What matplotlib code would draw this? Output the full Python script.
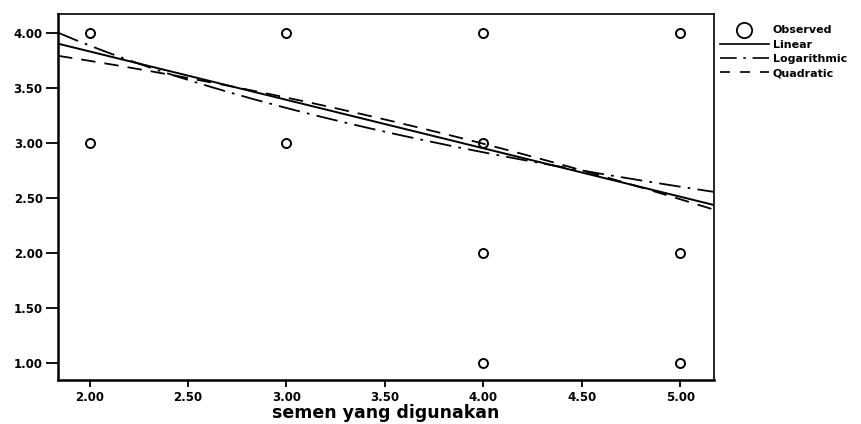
import numpy as np
import matplotlib
matplotlib.use("Agg")
import matplotlib.pyplot as plt
from matplotlib.lines import Line2D

obs_x = [2, 2, 3, 3, 4, 4, 4, 4, 5, 5, 5]
obs_y = [4, 3, 4, 3, 4, 3, 2, 1, 4, 2, 1]

# Fitted model coefficients
linear_coef = [4.71, -0.44]            # b0 + b1*x
log_coef = [4.854, -1.40]              # b0 + b1*ln(x)
quad_coef = [4.157, -0.121, -0.0426]   # b0 + b1*x + b2*x^2

x_ticks = [2.0, 2.5, 3.0, 3.5, 4.0, 4.5, 5.0]
y_ticks = [1.0, 1.5, 2.0, 2.5, 3.0, 3.5, 4.0]
xlim = (1.84, 5.17)
ylim = (0.845, 4.17)

plt.rcParams['font.family'] = ['DejaVu Sans']

fig = plt.figure(figsize=(8.61, 4.24), dpi=100)
ax = fig.add_axes([0.0674, 0.1038, 0.829 - 0.0674, 0.967 - 0.1038])

xs = np.linspace(xlim[0], xlim[1], 300)
ax.plot(obs_x, obs_y, linestyle='none', marker='o', markersize=6.5,
        markerfacecolor='none', markeredgecolor='black', markeredgewidth=1.4, clip_on=False)
ax.plot(xs, linear_coef[0] + linear_coef[1] * xs, color='black', lw=1.4)
ax.plot(xs, log_coef[0] + log_coef[1] * np.log(xs), color='black', lw=1.3,
        dashes=(12, 4, 1.5, 4))
ax.plot(xs, quad_coef[0] + quad_coef[1] * xs + quad_coef[2] * xs**2, color='black', lw=1.3,
        dashes=(8, 5))

ax.set_xlim(*xlim)
ax.set_ylim(*ylim)
ax.set_xticks(x_ticks)
ax.set_yticks(y_ticks)
ax.set_xticklabels([f"{v:.2f}" for v in x_ticks])
ax.set_yticklabels([f"{v:.2f}" for v in y_ticks])
ax.tick_params(axis='y', direction='out', length=9, width=1.3, labelsize=8.5, pad=2)
ax.tick_params(axis='x', direction='out', length=5, width=1.3, labelsize=8.5, pad=3)
for lab in ax.get_xticklabels() + ax.get_yticklabels():
    lab.set_fontweight('bold')
for s in ax.spines.values():
    s.set_linewidth(1.2)
ax.spines['left'].set_linewidth(1.8)
ax.spines['bottom'].set_linewidth(1.8)

ax.set_xlabel("semen yang digunakan", fontsize=12.5, fontweight='bold', labelpad=0)

handles = [
    Line2D([], [], linestyle='none', marker='o', markersize=11, markerfacecolor='none',
           markeredgecolor='black', markeredgewidth=1.3),
    Line2D([], [], color='black', lw=1.2),
    Line2D([], [], color='black', lw=1.2, dashes=(10, 4, 1.5, 4)),
    Line2D([], [], color='black', lw=1.2, dashes=(6, 6)),
]
labels = ["Observed", "Linear", "Logarithmic", "Quadratic"]
leg = fig.legend(handles, labels, loc='upper left', bbox_to_anchor=(0.836, 0.94),
                 frameon=False, fontsize=8, handlelength=4.4, handletextpad=0.35,
                 labelspacing=0.38, borderaxespad=0, borderpad=0)
for t in leg.get_texts():
    t.set_fontweight('bold')

fig.savefig("out.png", dpi=100)
